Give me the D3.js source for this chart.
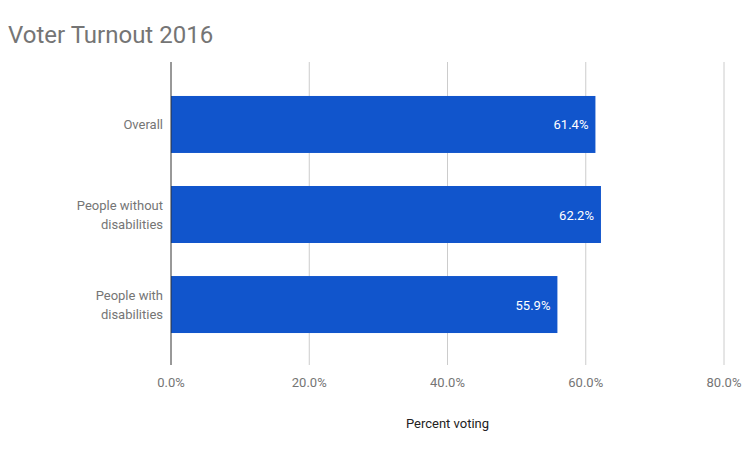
<!DOCTYPE html>
<html><head><meta charset="utf-8">
<script src="https://cdn.jsdelivr.net/npm/d3@7"></script>
<style>body{margin:0;background:#fff;font-family:Roboto,sans-serif}</style>
</head><body>
<svg id="chart" width="745" height="450"></svg>
<script>
const categories = [["Overall"], ["People without", "disabilities"], ["People with", "disabilities"]];
const values = [61.4, 62.2, 55.9];
const ticks = [0, 20, 40, 60, 80];

const svg = d3.select("#chart");
const x = d3.scaleLinear().domain([0, 80]).range([171, 724]);
const y = d3.scaleBand().domain(d3.range(categories.length)).range([79.5, 349.5])
  .paddingInner(0.367).paddingOuter(0.183);

svg.append("text").attr("x", 8).attr("y", 43).attr("font-size", 24)
  .attr("fill", "#757575").text("Voter Turnout 2016");

// gridlines
svg.selectAll(".grid").data(ticks.slice(1)).join("line")
  .attr("x1", d => x(d)).attr("x2", d => x(d)).attr("y1", 62).attr("y2", 365)
  .attr("stroke", "#cccccc");

svg.selectAll(".tick-label").data(ticks).join("text")
  .attr("x", d => x(d)).attr("y", 387).attr("text-anchor", "middle")
  .attr("font-size", 13).attr("fill", "#757575").text(d => d.toFixed(1) + "%");

svg.selectAll(".bar").data(values).join("rect")
  .attr("x", x(0)).attr("y", (d, i) => y(i))
  .attr("width", d => x(d) - x(0)).attr("height", y.bandwidth())
  .attr("fill", "#1155cc");

svg.selectAll(".val").data(values).join("text")
  .attr("x", d => x(d) - 7).attr("y", (d, i) => y(i) + y.bandwidth() / 2 + 5)
  .attr("text-anchor", "end").attr("font-size", 13).attr("fill", "#fff")
  .text(d => d.toFixed(1) + "%");

// category labels
categories.forEach((lines, i) => {
  const cy = y(i) + y.bandwidth() / 2;
  const t = svg.append("text").attr("text-anchor", "end").attr("font-size", 13).attr("fill", "#757575");
  lines.forEach((l, j) => {
    t.append("tspan").attr("x", 163)
      .attr("y", cy + 5 + (j - (lines.length - 1) / 2) * 19).text(l);
  });
});

svg.append("line").attr("x1", x(0)).attr("x2", x(0)).attr("y1", 62).attr("y2", 365)
  .attr("stroke", "#333");

svg.append("text").attr("x", x(40)).attr("y", 428).attr("text-anchor", "middle")
  .attr("font-size", 13).attr("fill", "#222").text("Percent voting");
</script>
</body></html>
